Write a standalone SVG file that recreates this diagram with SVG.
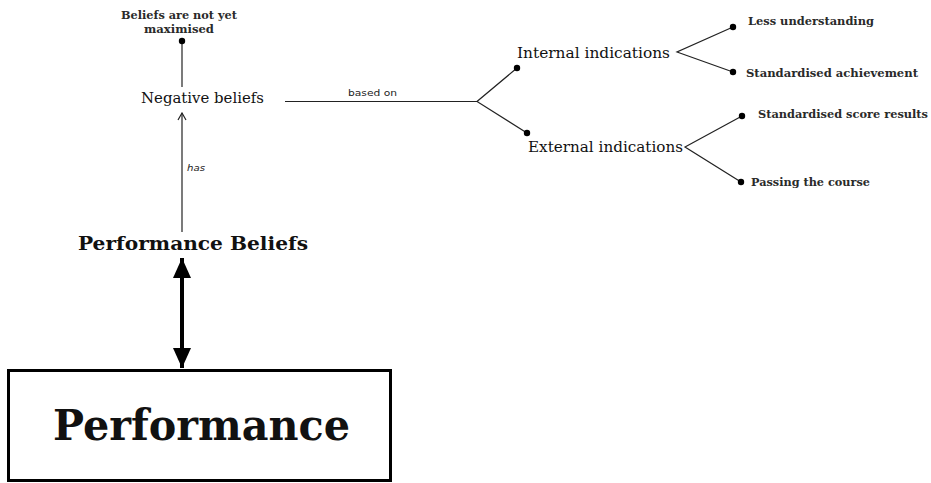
<svg xmlns="http://www.w3.org/2000/svg" width="931" height="483" viewBox="0 0 931 483">
  <style>
    .serif { font-family: "DejaVu Serif", "Liberation Serif", serif; fill: #111; }
    .mid { font-size: 15px; }
    .small { font-size: 11px; font-weight: bold; fill: #2a2a2a; }
    .lbl { font-family: "DejaVu Sans", "Liberation Sans", sans-serif; font-size: 9.5px; fill: #222; }
    .thin { stroke: #222; stroke-width: 1.2; fill: none; }
    .dot { fill: #000; }
  </style>
  <defs>
    <marker id="open" viewBox="0 0 10 10" refX="9" refY="5" markerWidth="10" markerHeight="10" markerUnits="userSpaceOnUse" orient="auto-start-reverse">
      <path d="M2,1 L9,5 L2,9" fill="none" stroke="#222" stroke-width="1.2"/>
    </marker>
    <marker id="solid" viewBox="0 0 20 18" refX="20" refY="9" markerWidth="20" markerHeight="18" markerUnits="userSpaceOnUse" orient="auto-start-reverse">
      <path d="M0,0 L20,9 L0,18 Z" fill="#000"/>
    </marker>
  </defs>

  <!-- connectors -->
  <g id="connectors">
    <!-- Negative beliefs up to the note -->
    <line class="thin" x1="182" y1="41" x2="182" y2="87"/>
    <circle class="dot" cx="182" cy="41" r="3.2"/>
    <!-- "has" relation -->
    <line class="thin" x1="182" y1="232" x2="182" y2="113" marker-end="url(#open)"/>
    <text class="lbl" x="187" y="171" font-style="italic" textLength="18" lengthAdjust="spacingAndGlyphs">has</text>
    <!-- "based on" relation -->
    <line class="thin" x1="285" y1="101.5" x2="477" y2="101.5"/>
    <text class="lbl" x="348" y="96" textLength="49" lengthAdjust="spacingAndGlyphs">based on</text>
    <polyline class="thin" points="517,68 477,101.5 527,133"/>
    <circle class="dot" cx="517" cy="68" r="3.2"/>
    <circle class="dot" cx="527" cy="133" r="3.2"/>
    <!-- internal branches -->
    <polyline class="thin" points="733,27 677,52 733,72"/>
    <circle class="dot" cx="733" cy="27" r="3.2"/>
    <circle class="dot" cx="733" cy="72" r="3.2"/>
    <!-- external branches -->
    <polyline class="thin" points="742,116 685,147 741,182"/>
    <circle class="dot" cx="742" cy="116" r="3.2"/>
    <circle class="dot" cx="741" cy="182" r="3.2"/>
    <!-- two-way link between beliefs and performance -->
    <line x1="182" y1="258" x2="182" y2="368" stroke="#000" stroke-width="4" marker-start="url(#solid)" marker-end="url(#solid)"/>
  </g>

  <g id="note">
    <text class="serif small" x="179" y="19" text-anchor="middle" textLength="116" lengthAdjust="spacingAndGlyphs">Beliefs are not yet</text>
    <text class="serif small" x="179" y="33" text-anchor="middle" textLength="70" lengthAdjust="spacingAndGlyphs">maximised</text>
  </g>

  <g id="negative-beliefs">
    <text class="serif mid" x="141" y="103" textLength="123" lengthAdjust="spacingAndGlyphs">Negative beliefs</text>
  </g>

  <g id="internal-indications">
    <text class="serif mid" x="517" y="58" textLength="153" lengthAdjust="spacingAndGlyphs">Internal indications</text>
  </g>

  <g id="external-indications">
    <text class="serif mid" x="528" y="152" textLength="155" lengthAdjust="spacingAndGlyphs">External indications</text>
  </g>

  <g id="less-understanding">
    <text class="serif small" x="748" y="25" textLength="126" lengthAdjust="spacingAndGlyphs">Less understanding</text>
  </g>

  <g id="standardised-achievement">
    <text class="serif small" x="746" y="77" textLength="172" lengthAdjust="spacingAndGlyphs">Standardised achievement</text>
  </g>

  <g id="standardised-score-results">
    <text class="serif small" x="758" y="118" textLength="170" lengthAdjust="spacingAndGlyphs">Standardised score results</text>
  </g>

  <g id="passing-the-course">
    <text class="serif small" x="751" y="186" textLength="119" lengthAdjust="spacingAndGlyphs">Passing the course</text>
  </g>

  <g id="performance-beliefs">
    <text class="serif" x="78" y="250" font-size="19" font-weight="bold" textLength="230" lengthAdjust="spacingAndGlyphs">Performance Beliefs</text>
  </g>

  <g id="performance">
    <rect x="8.5" y="370.5" width="382" height="110" fill="#fff" stroke="#000" stroke-width="3"/>
    <text class="serif" x="53" y="440" font-size="42" font-weight="bold" textLength="297" lengthAdjust="spacingAndGlyphs">Performance</text>
  </g>
</svg>
